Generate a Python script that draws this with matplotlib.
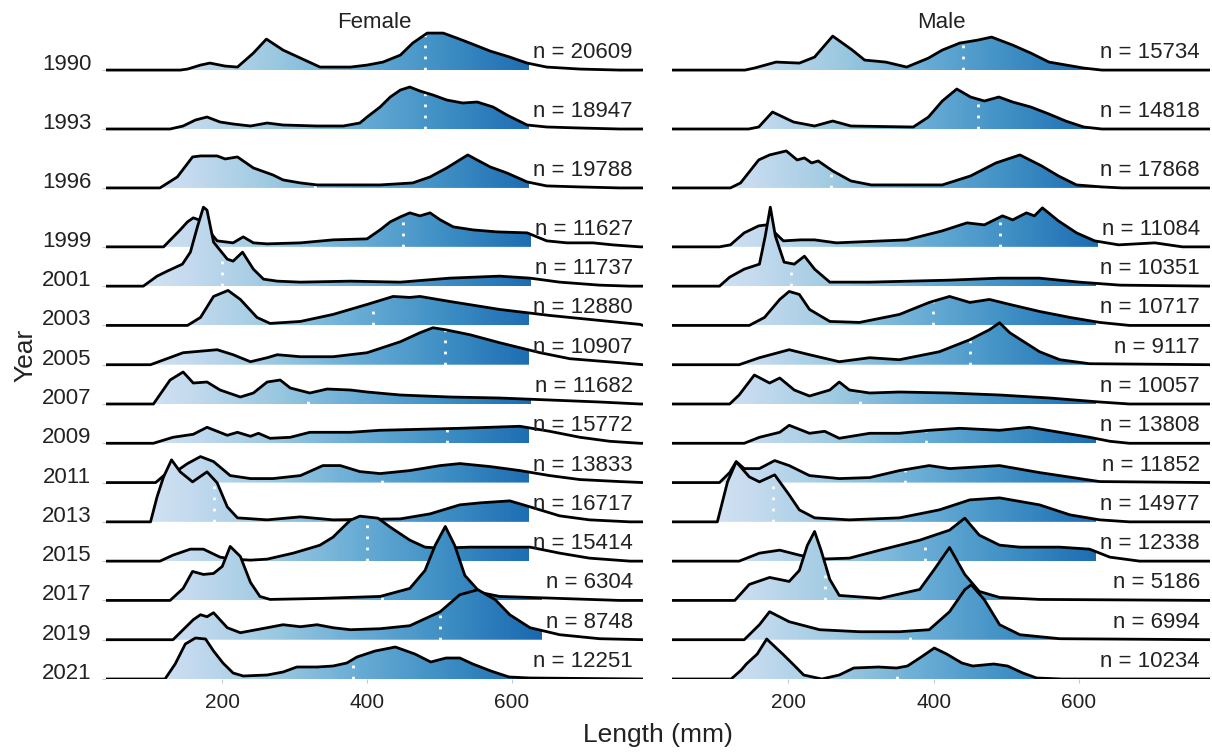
import numpy as np
import matplotlib.pyplot as plt
from matplotlib.patches import Polygon, Rectangle
from matplotlib.colors import Normalize

plt.rcParams['font.family'] = ['Liberation Sans', 'DejaVu Sans']

# data ---------------------------------------------------------------
years = [1990, 1993, 1996, 1999, 2001, 2003, 2005, 2007, 2009, 2011,
         2013, 2015, 2017, 2019, 2021]

female_n = [20609, 18947, 19788, 11627, 11737, 12880, 10907, 11682, 15772,
            13833, 16717, 15414, 6304, 8748, 12251]
male_n = [15734, 14818, 17868, 11084, 10351, 10717, 9117, 10057, 13808,
          11852, 14977, 12338, 5186, 6994, 10234]

# median length (mm)
female_median = [480, 480, 328, 450, 200, 408, 508, 319, 510, 421, 188, 400, 421, 501, 380]
male_median = [441, 461, 259, 491, 204, 399, 450, 299, 389, 360, 179, 388, 251, 367, 349]

# density curves: (length mm, relative density)
female_density = {
    1990: [(40, 0), (142, 0), (152, 1), (170, 5), (183, 7), (204, 4), (221, 3), (243, 17), (261, 31),
           (284, 20), (308, 12), (335, 3), (377, 3), (400, 5), (422, 8), (446, 15), (463, 27), (483, 37),
           (505, 37), (524, 32), (542, 27), (570, 19), (597, 13), (621, 7), (648, 3), (694, 1), (749, 0), (781, 0)],
    1993: [(40, 0), (128, 0), (146, 3), (163, 9), (179, 12), (197, 7), (215, 5), (239, 3), (262, 6), (284, 4),
           (331, 3), (367, 3), (390, 6), (400, 12), (418, 22), (432, 32), (446, 39), (459, 42), (473, 38),
           (491, 34), (510, 29), (532, 26), (552, 27), (574, 22), (593, 14), (621, 4), (648, 2), (694, 1),
           (749, 0), (781, 0)],
    1996: [(40, 0), (114, 0), (138, 11), (159, 31), (170, 32), (193, 32), (204, 29), (221, 31), (243, 20),
           (270, 13), (284, 8), (308, 5), (331, 3), (418, 3), (463, 5), (487, 11), (510, 20), (539, 33),
           (570, 21), (593, 15), (621, 6), (648, 2), (694, 1), (749, 0), (781, 0)],
    1999: [(40, 0), (119, 0), (142, 17), (152, 25), (160, 29), (168, 27), (177, 20), (193, 6), (215, 4),
           (229, 10), (243, 4), (262, 3), (308, 4), (353, 7), (400, 8), (418, 17), (432, 25), (446, 30),
           (459, 34), (473, 31), (487, 34), (501, 27), (519, 20), (546, 17), (579, 15), (621, 14), (648, 6),
           (676, 4), (694, 4), (712, 4), (739, 2), (777, 0), (781, 0)],
    2001: [(40, 0), (91, 0), (110, 10), (124, 15), (145, 22), (156, 34), (166, 60), (174, 79), (179, 76),
           (188, 44), (207, 27), (215, 25), (228, 34), (243, 17), (257, 7), (276, 5), (308, 4), (377, 5),
           (446, 4), (514, 8), (583, 10), (625, 8), (666, 4), (721, 1), (763, 0), (781, 0)],
    2003: [(40, 0), (152, 0), (170, 8), (188, 29), (208, 35), (225, 26), (248, 8), (266, 2), (308, 4),
           (353, 11), (400, 21), (436, 29), (459, 28), (473, 29), (514, 24), (583, 16), (652, 10), (721, 5),
           (777, 1), (781, 0)],
    2005: [(40, 0), (101, 0), (146, 12), (193, 15), (215, 10), (239, 3), (262, 7), (276, 10), (308, 8),
           (353, 8), (400, 12), (446, 23), (473, 32), (491, 37), (508, 35), (542, 30), (583, 22), (639, 12),
           (680, 6), (749, 2), (781, 0)],
    2007: [(40, 0), (105, 0), (128, 24), (146, 32), (160, 21), (179, 22), (197, 14), (225, 7), (243, 11),
           (262, 22), (280, 24), (294, 16), (321, 11), (345, 15), (377, 14), (400, 12), (446, 9), (514, 7),
           (583, 6), (652, 4), (721, 2), (777, 0), (781, 0)],
    2009: [(40, 0), (105, 0), (132, 6), (160, 9), (179, 16), (207, 8), (221, 11), (239, 7), (250, 10),
           (266, 5), (294, 6), (321, 11), (353, 11), (377, 11), (418, 13), (473, 14), (528, 15), (611, 17),
           (652, 12), (694, 6), (735, 2), (777, 0), (781, 0)],
    2011: [(40, 0), (108, 0), (121, 8), (138, 12), (152, 19), (170, 26), (188, 21), (211, 7), (239, 4),
           (270, 4), (308, 7), (339, 17), (363, 17), (390, 11), (418, 9), (459, 12), (501, 17), (528, 19),
           (570, 16), (611, 12), (652, 7), (694, 3), (749, 1), (781, 0)],
    2013: [(40, 0), (101, 0), (110, 25), (119, 45), (130, 62), (142, 50), (159, 40), (179, 50), (193, 39),
           (207, 15), (221, 4), (262, 2), (308, 5), (353, 2), (446, 3), (487, 8), (528, 17), (556, 19),
           (597, 21), (625, 15), (666, 6), (707, 2), (763, 0), (781, 0)],
    2015: [(40, 0), (114, 0), (132, 6), (156, 12), (174, 12), (197, 4), (215, 2), (239, 1), (262, 2),
           (298, 8), (326, 14), (335, 16), (353, 24), (367, 34), (377, 41), (390, 45), (415, 43), (432, 34),
           (459, 21), (480, 14), (501, 13), (542, 14), (583, 14), (625, 14), (666, 8), (707, 3), (763, 0),
           (781, 0)],
    2017: [(40, 0), (128, 0), (146, 12), (159, 29), (174, 26), (188, 27), (200, 34), (211, 54), (225, 44),
           (239, 18), (252, 4), (266, 1), (335, 2), (418, 4), (459, 12), (480, 30), (494, 55), (508, 74),
           (521, 55), (535, 25), (556, 8), (583, 4), (666, 2), (749, 0), (781, 0)],
    2019: [(40, 0), (132, 0), (160, 20), (170, 25), (179, 23), (188, 27), (207, 12), (225, 7), (262, 12),
           (284, 15), (308, 13), (331, 15), (353, 12), (377, 10), (418, 11), (459, 14), (501, 28), (528, 45),
           (553, 50), (577, 40), (597, 25), (625, 12), (666, 5), (721, 1), (781, 0)],
    2021: [(40, 0), (121, 0), (135, 15), (149, 35), (163, 41), (177, 40), (188, 28), (201, 16), (215, 6),
           (229, 3), (262, 4), (284, 7), (303, 12), (331, 12), (353, 13), (372, 16), (386, 22), (411, 28),
           (439, 32), (466, 25), (488, 17), (509, 21), (528, 21), (546, 15), (571, 8), (596, 2), (625, 1),
           (781, 0)],
}

male_density = {
    1990: [(39, 0), (140, 0), (153, 2), (183, 8), (215, 7), (236, 13), (261, 34), (288, 20), (305, 10),
           (334, 8), (363, 3), (393, 12), (412, 20), (436, 27), (461, 30), (480, 33), (509, 25), (534, 17),
           (559, 8), (607, 2), (632, 0), (781, 0)],
    1993: [(39, 0), (145, 0), (159, 2), (178, 17), (207, 7), (236, 3), (261, 8), (286, 3), (372, 2),
           (393, 12), (412, 28), (432, 40), (451, 32), (470, 28), (490, 32), (509, 27), (534, 22), (559, 15),
           (582, 8), (607, 2), (632, 0), (781, 0)],
    1996: [(39, 0), (120, 0), (134, 5), (159, 28), (174, 33), (197, 37), (212, 28), (222, 30), (232, 25),
           (241, 27), (261, 17), (286, 7), (314, 3), (412, 3), (451, 12), (486, 25), (519, 33), (549, 22),
           (572, 12), (597, 3), (632, 1), (660, 0), (781, 0)],
    1999: [(39, 0), (105, 0), (120, 2), (139, 14), (159, 21), (170, 22), (193, 6), (217, 7), (236, 7),
           (266, 4), (363, 7), (412, 16), (446, 24), (470, 22), (495, 31), (509, 27), (528, 34), (539, 31),
           (550, 39), (572, 26), (597, 14), (622, 6), (655, 2), (705, 4), (743, 0), (781, 0)],
    2001: [(39, 0), (105, 0), (119, 9), (139, 17), (160, 22), (168, 50), (175, 79), (182, 50), (194, 24),
           (208, 22), (222, 30), (236, 17), (257, 4), (312, 4), (422, 6), (491, 8), (546, 8), (601, 4),
           (657, 1), (781, 0)],
    2003: [(39, 0), (146, 0), (167, 8), (188, 26), (201, 34), (215, 31), (229, 16), (257, 4), (298, 3),
           (353, 11), (394, 23), (422, 29), (450, 23), (477, 26), (505, 21), (546, 14), (588, 8), (629, 3),
           (670, 0), (781, 0)],
    2005: [(39, 0), (132, 0), (160, 7), (201, 15), (229, 10), (270, 3), (312, 7), (353, 5), (408, 13),
           (450, 25), (477, 35), (491, 42), (505, 32), (546, 13), (574, 5), (615, 1), (781, 0)],
    2007: [(39, 0), (119, 0), (132, 9), (153, 29), (174, 21), (188, 26), (208, 14), (229, 8), (257, 14),
           (270, 22), (284, 14), (312, 11), (353, 12), (422, 11), (491, 9), (560, 6), (629, 2), (670, 0),
           (781, 0)],
    2009: [(39, 0), (139, 0), (160, 6), (188, 11), (201, 18), (229, 10), (250, 12), (270, 5), (312, 10),
           (353, 10), (394, 13), (436, 15), (491, 13), (532, 16), (574, 11), (615, 6), (643, 2), (670, 0),
           (781, 0)],
    2011: [(39, 0), (105, 0), (119, 10), (128, 21), (139, 14), (160, 14), (181, 22), (201, 17), (229, 7),
           (270, 4), (312, 5), (353, 12), (394, 17), (422, 14), (491, 17), (546, 10), (601, 4), (629, 1),
           (781, 0)],
    2013: [(39, 0), (102, 0), (116, 40), (128, 60), (146, 45), (160, 40), (181, 47), (201, 27), (215, 12),
           (236, 4), (284, 2), (353, 4), (408, 12), (450, 22), (491, 24), (546, 17), (588, 7), (629, 2),
           (670, 0), (781, 0)],
    2015: [(39, 0), (132, 0), (160, 8), (188, 11), (215, 6), (243, 2), (284, 3), (326, 11), (381, 21),
           (422, 31), (443, 43), (463, 26), (491, 16), (519, 14), (574, 14), (615, 12), (643, 4), (684, 0),
           (781, 0)],
    2017: [(39, 0), (126, 0), (146, 16), (174, 23), (201, 19), (215, 30), (226, 55), (236, 69), (245, 50),
           (257, 21), (270, 5), (326, 2), (381, 11), (401, 31), (422, 53), (443, 26), (463, 9), (491, 3),
           (546, 1), (781, 0)],
    2019: [(39, 0), (139, 0), (160, 15), (174, 28), (201, 18), (243, 10), (298, 8), (353, 8), (394, 10),
           (422, 28), (443, 50), (452, 55), (470, 40), (491, 15), (519, 5), (574, 1), (781, 0)],
    2021: [(39, 0), (121, 0), (135, 9), (142, 15), (157, 25), (170, 40), (192, 25), (206, 15), (221, 4),
           (246, 0), (270, 4), (290, 11), (324, 12), (349, 11), (364, 13), (383, 22), (401, 31), (418, 25),
           (439, 16), (454, 13), (483, 15), (502, 13), (523, 6), (542, 1), (577, 0), (781, 0)],
}

# style --------------------------------------------------------------
W, H = 1212, 752
x_lo, x_hi = 39.5, 781
dens_scale = 1 / 19.65          # density units -> years on the y axis
y_top = 1987.96
grad = np.linspace(x_lo, x_hi, 600)[None, :]
cmap = plt.get_cmap('Blues')
norm = Normalize(vmin=x_lo - 120, vmax=x_hi + 60)
label_x = 767

fig = plt.figure(figsize=(W / 100, H / 100), dpi=100)
ax_f = fig.add_axes([106 / W, 1 - 679 / H, 537 / W, 649 / H])
ax_m = fig.add_axes([672 / W, 1 - 679 / H, 538 / W, 649 / H])


def draw_panel(ax, dens, medians, counts):
    ax.set_xlim(x_lo, x_hi)
    ax.set_ylim(2021, y_top)
    labels = []
    for i, yr in enumerate(years):
        pts = np.array(dens[yr], dtype=float)
        xs, hs = pts[:, 0], pts[:, 1]
        ys = yr - hs * dens_scale
        z = 2 + 4 * i
        verts = np.column_stack([np.r_[xs, xs[-1], xs[0]], np.r_[ys, yr, yr]])
        poly = Polygon(verts, closed=True, transform=ax.transData)
        im = ax.imshow(grad, cmap=cmap, norm=norm, extent=(x_lo, x_hi, yr, ys.min()),
                       aspect='auto', interpolation='bilinear', zorder=z)
        im.set_clip_path(poly)
        # median line
        m = medians[i]
        hm = np.interp(m, xs, hs) * dens_scale
        ax.plot([m, m], [yr, yr - hm], color='white', lw=2, ls=(0, (1, 3)), zorder=z + 0.5)
        t = ax.text(label_x, yr - 12 * dens_scale, f'n = {counts[i]}', ha='right', va='baseline',
                    fontsize=16, color='#222222', zorder=z + 3)
        labels.append((t, yr, z))
        ax.plot(xs, ys, color='black', lw=2.0, zorder=z + 2, solid_joinstyle='round')

    ax.set_xlim(x_lo, x_hi)
    ax.set_ylim(2021, y_top)
    for s in ax.spines.values():
        s.set_visible(False)
    ax.set_xticks([200, 400, 600])
    ax.tick_params(axis='x', length=3, color='#c8c8c8', labelsize=15, pad=7, labelcolor='#222222')
    return labels


lab_f = draw_panel(ax_f, female_density, female_median, female_n)
lab_m = draw_panel(ax_m, male_density, male_median, male_n)

# white label boxes (cover the fill, keep the outline visible)
renderer = fig.canvas.get_renderer()
for ax, labs in ((ax_f, lab_f), (ax_m, lab_m)):
    inv = ax.transData.inverted()
    for t, yr, z in labs:
        bb = t.get_window_extent(renderer)
        (bx0, by1) = inv.transform((bb.x0 - 4, bb.y1 + 4))
        ax.add_patch(Rectangle((bx0, yr), x_hi - bx0, by1 - yr, fc='white', ec='none', zorder=z + 1))

ax_f.set_yticks(years)
ax_f.set_yticklabels([str(y) for y in years])
ax_f.tick_params(axis='y', length=3, color='#c8c8c8', labelsize=16, pad=7.5, labelcolor='#222222')
for lab in ax_f.get_yticklabels():
    lab.set_va('baseline')
ax_m.set_yticks([])

fig.text((106 + 643) / 2 / W, 1 - 23 / H, 'Female', ha='center', va='center', fontsize=16, color='#222222')
fig.text((672 + 1210) / 2 / W, 1 - 23 / H, 'Male', ha='center', va='center', fontsize=16, color='#222222')
fig.text(658 / W, 1 - 735 / H, 'Length (mm)', ha='center', va='center', fontsize=19, color='#222222')
fig.text(25 / W, 1 - 355 / H, 'Year', ha='center', va='center', rotation=90, fontsize=19, color='#222222')

fig.savefig('out.png', dpi=100, facecolor='white')
